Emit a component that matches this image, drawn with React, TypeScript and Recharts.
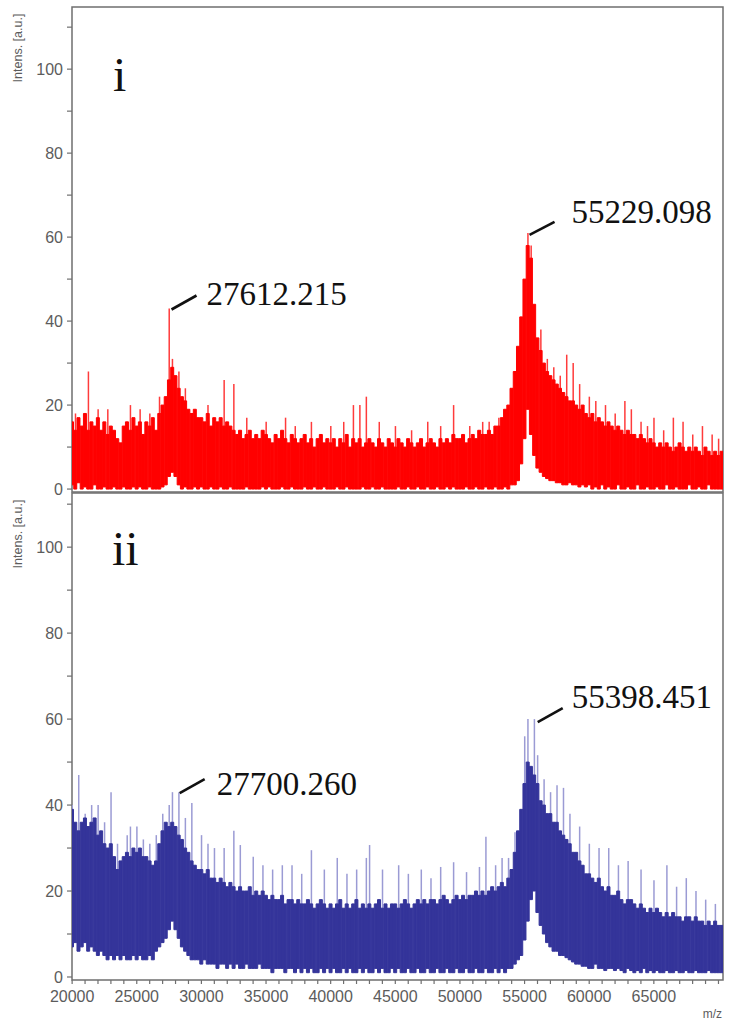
import React from 'react'
import { ComposedChart, Bar, XAxis, YAxis, ReferenceArea, ReferenceDot } from 'recharts'

// m/z bins: 20000, 20250, ... 70250 (one value per bin)
const MZ_START = 20000
const MZ_STEP = 250
const MZ_DOMAIN: [number, number] = [19990, 70350]
const X_LABELS = [20000, 25000, 30000, 35000, 40000, 45000, 50000, 55000, 60000, 65000]
const Y_TICKS = [0, 10, 20, 30, 40, 50, 60, 70, 80, 90, 100, 110]

// panel i (red) - upper / lower edge of the dense trace
const TOP_HI = [
  16, 14, 17, 15, 18, 14, 16, 15, 17, 14, 16, 13, 15, 14, 12, 11, 15, 16, 14, 17,
  15, 16, 13, 16, 15, 17, 14, 18, 20, 22, 26, 29, 27, 24, 22, 21, 19, 18, 19, 17,
  17, 16, 18, 15, 17, 16, 17, 15, 16, 15, 14, 13, 14, 12, 13, 14, 12, 13, 12, 14,
  13, 12, 11, 13, 12, 14, 12, 11, 13, 12, 11, 12, 13, 11, 12, 10, 12, 13, 11, 12,
  11, 12, 10, 12, 11, 13, 10, 12, 11, 12, 10, 11, 12, 11, 10, 12, 11, 10, 12, 11,
  10, 12, 11, 10, 12, 11, 10, 11, 12, 10, 11, 12, 11, 10, 12, 11, 12, 11, 13, 12,
  12, 13, 11, 12, 13, 12, 14, 13, 13, 14, 13, 15, 15, 17, 19, 20, 24, 28, 34, 41,
  50, 58, 55, 44, 36, 33, 30, 28, 27, 26, 25, 24, 23, 22, 21, 21, 20, 19, 20, 18,
  17, 18, 16, 17, 16, 15, 16, 15, 14, 15, 14, 13, 14, 13, 13, 12, 13, 12, 11, 12,
  11, 10, 11, 10, 11, 10, 9, 10, 11, 10, 9, 10, 9, 10, 9, 8, 10, 9, 8, 9,
  8, 9,
]
const TOP_LO = [
  1, 0, 1.5, 0, 0.5, 0, 0, 1, 0, 0, 0.5, 0, 0, 0.5, 0, 0, 0.5, 0, 0, 0.5,
  0, 0.5, 0, 0, 0.5, 0, 0, 0, 0.5, 1, 3, 4, 3, 1, 0, 0.5, 0, 0, 0.5, 0,
  0.5, 0, 0, 0.5, 0, 0, 0.5, 0, 0, 0.5, 0, 0, 0, 0, 0.5, 0, 0, 0, 0, 0.5,
  0, 0.5, 0, 0, 0, 0.5, 0, 0, 0.5, 0, 0, 0, 0.5, 0, 0, 0.5, 0, 0, 0.5, 0,
  0, 0, 0.5, 0, 0, 0.5, 0, 0, 0, 0, 0.5, 0, 0, 0.5, 0, 0, 0.5, 0, 0, 0,
  0, 0.5, 0, 0, 0.5, 0, 0, 0.5, 0, 0, 0.5, 0, 0, 0.5, 0, 0, 0.5, 0, 0.5, 0,
  0, 0, 0.5, 0, 0, 0.5, 0, 0, 0.5, 0, 0, 0.5, 0, 0, 0.5, 0, 1, 1, 2, 6,
  12, 19, 13, 8, 5, 4, 3, 2.5, 2, 2, 1.5, 1.5, 1, 1, 1.5, 1, 1, 0.5, 1, 0.5,
  1, 0, 0.5, 0, 1, 0, 0.5, 0, 0, 1, 0, 0, 0.5, 0, 0, 1, 0, 0, 0.5, 0,
  0, 0.5, 0, 0, 1, 0, 0, 0.5, 0, 0, 0, 1, 0, 0, 0.5, 0, 0, 1, 0, 0,
  0, 0,
]
// isolated tall lines above the trace [m/z, intensity]
const TOP_SPIKES: [number, number][] = [
  [20250, 18], [21250, 28], [22000, 19], [22750, 19], [24500, 20], [25250, 19], [26000, 18],
  [26750, 22], [27500, 43], [27750, 31], [28250, 28], [28750, 24], [30500, 20], [31750, 26],
  [32500, 25], [33500, 17], [35000, 16], [36500, 17], [37250, 15], [38500, 16], [40000, 15],
  [41000, 16], [41750, 20], [42250, 20], [42750, 22], [43750, 16], [45000, 15], [46250, 14],
  [47500, 16], [48500, 15], [49500, 20], [50750, 15], [51750, 16], [52250, 16], [53000, 17],
  [55250, 61], [55500, 58], [56250, 38], [56750, 31], [57250, 29], [57750, 27], [58250, 32],
  [58750, 30], [59250, 25], [60000, 22], [60500, 21], [61250, 20], [62000, 18], [62750, 21],
  [63250, 19], [64000, 16], [64500, 15], [65000, 17], [65750, 14], [66500, 17], [67250, 16],
  [68000, 13], [68750, 15], [69500, 13], [70000, 12],
]

// panel ii (blue)
const BOT_HI = [
  39, 36, 34, 36, 37, 35, 36, 37, 33, 34, 31, 30, 31, 28, 25, 27, 28, 29, 28, 30,
  29, 30, 28, 28, 27, 26, 27, 31, 34, 36, 35, 36, 35, 33, 32, 30, 29, 27, 26, 25,
  25, 24, 25, 23, 23, 22, 23, 22, 21, 22, 21, 20, 21, 20, 20, 21, 19, 20, 19, 20,
  19, 18, 19, 18, 18, 19, 17, 18, 18, 17, 18, 17, 17, 18, 17, 16, 17, 18, 17, 16,
  17, 16, 17, 18, 16, 17, 16, 17, 18, 16, 17, 16, 17, 16, 17, 18, 16, 17, 16, 17,
  17, 16, 17, 18, 17, 16, 17, 18, 17, 18, 17, 18, 18, 17, 18, 19, 18, 17, 18, 19,
  18, 19, 18, 19, 19, 20, 19, 20, 19, 20, 21, 20, 21, 22, 21, 23, 25, 29, 34, 39,
  45, 50, 49, 47, 45, 41, 40, 38, 38, 36, 36, 34, 33, 32, 31, 29, 29, 27, 26, 24,
  24, 23, 22, 23, 21, 20, 21, 19, 19, 20, 18, 17, 18, 18, 17, 16, 17, 16, 15, 16,
  15, 16, 15, 14, 15, 14, 15, 14, 14, 13, 14, 14, 13, 14, 13, 13, 12, 13, 12, 13,
  12, 12,
]
const BOT_LO = [
  7, 8, 6, 7, 8, 6, 7, 6, 5, 6, 5, 4, 5, 4, 5, 4, 5, 4, 4, 5,
  4, 5, 4, 4, 5, 4, 6, 7, 8, 9, 11, 13, 11, 9, 7, 6, 5, 4, 4, 4,
  3, 4, 3, 3, 3, 2, 3, 3, 2, 3, 2, 3, 2, 2, 3, 2, 2, 2, 3, 2,
  2, 2, 1, 2, 2, 2, 1, 2, 2, 1, 2, 1, 2, 1, 2, 1, 1, 2, 1, 2,
  1, 2, 1, 1, 2, 1, 2, 1, 1, 2, 1, 2, 1, 1, 2, 1, 2, 1, 1, 2,
  1, 2, 1, 1, 2, 1, 1, 2, 1, 1, 2, 1, 1, 2, 1, 1, 2, 1, 1, 2,
  1, 1, 2, 1, 1, 2, 1, 1, 2, 1, 1, 2, 1, 2, 1, 2, 2, 3, 4, 5,
  8.6, 13, 18, 20, 15, 12, 10, 8, 7, 6, 6, 5, 5, 4.5, 4, 3.5, 3, 3, 2.5, 2.5,
  2, 2, 3, 2, 2, 1.5, 2, 2, 1.5, 2, 1.5, 1, 2, 1.5, 1, 1.5, 1, 2, 1, 1.5,
  1, 1.5, 1, 1, 1.5, 1, 1, 1.5, 1, 1, 1.5, 1, 1, 1.5, 1, 1, 1, 1.5, 1, 1,
  1, 1,
]
const BOT_SPIKES: [number, number][] = [
  [20000, 40], [20500, 47], [21000, 38], [21500, 40], [22000, 40], [22500, 36], [23000, 43],
  [23500, 31], [24250, 33], [24500, 35], [25000, 35], [25500, 32], [26000, 31], [26500, 33],
  [27000, 38], [27500, 40], [27750, 43], [28250, 43], [28750, 37], [29250, 40.5], [30000, 33],
  [30500, 31], [31000, 30], [31750, 30], [32500, 34], [33000, 30.7], [34000, 28], [34750, 26],
  [35500, 25], [36250, 26], [37000, 26], [37750, 24], [38500, 29.5], [39500, 25], [40500, 27.7],
  [41250, 24], [42000, 25], [42750, 27.7], [43000, 30.7], [44000, 25], [45250, 26], [46000, 24],
  [47000, 25], [47750, 23], [48500, 25.6], [49500, 26.7], [50500, 24.4], [51500, 25.6],
  [52000, 32.6], [52750, 26], [53250, 27.7], [53750, 27.7], [54250, 33.7], [55000, 56],
  [55250, 60], [55750, 60], [56000, 51.6], [56500, 46], [57000, 43], [57500, 44.6], [58000, 44],
  [58500, 38], [59250, 35], [60000, 31], [60750, 30], [61500, 30], [62250, 26], [63000, 27],
  [64000, 25], [65000, 22.5], [66000, 26], [66750, 21], [67500, 23], [68250, 20], [69000, 18],
  [69750, 17],
]

const TOP_PEAKS = [
  { mz: 27612.215, intensity: 43, label: '27612.215' },
  { mz: 55229.098, intensity: 61, label: '55229.098' },
]
const BOT_PEAKS = [
  { mz: 27700.26, intensity: 42.8, label: '27700.260' },
  { mz: 55398.451, intensity: 60, label: '55398.451' },
]
// leader line start/end and label anchor, px from the peak apex
const TOP_CALLOUTS = [
  { l1: [1, 1], l2: [26, -13], t: [36, -3] },
  { l1: [2, 2], l2: [27, -11], t: [44, -10] },
]
const BOT_CALLOUTS = [
  { l1: [8, 0], l2: [33, -14], t: [45, 2] },
  { l1: [8, 3], l2: [33, -11], t: [42, -11] },
]

const AXIS_GRAY = '#6f6f6f'
const TEXT_GRAY = '#5c5c5c'
const SANS = '"Liberation Sans", Arial, sans-serif'
const SERIF = '"Liberation Serif", "Times New Roman", serif'

function buildRows(hi: number[], lo: number[], spikes: [number, number][]) {
  const spikeMap = new Map(spikes)
  return hi.map((h, i) => {
    const x = MZ_START + i * MZ_STEP
    return { x, core: [lo[i], h], spike: spikeMap.has(x) ? [lo[i], spikeMap.get(x)] : null }
  })
}

const topRows = buildRows(TOP_HI, TOP_LO, TOP_SPIKES)
const botRows = buildRows(BOT_HI, BOT_LO, BOT_SPIKES)

const xTicks = Array.from({ length: 51 }, (_, i) => 20000 + i * 1000)

function YTick(props: any) {
  const { x, y, payload } = props
  const major = payload.value % 20 === 0
  return (
    <g>
      <line x1={x - 5} x2={x} y1={y} y2={y} stroke={AXIS_GRAY} strokeWidth={1.2} />
      {major && (
        <text x={x - 9} y={y} dy="0.36em" textAnchor="end" fontSize={16} fontFamily={SANS} fill={TEXT_GRAY}>
          {payload.value}
        </text>
      )}
    </g>
  )
}

function XTick(props: any) {
  const { x, y, payload } = props
  const showLabel = X_LABELS.includes(payload.value)
  return (
    <g>
      <line x1={x} x2={x} y1={y} y2={y + 4} stroke={AXIS_GRAY} strokeWidth={1.2} />
      {showLabel && (
        <text x={x} y={y + 22} textAnchor="middle" fontSize={16} fontFamily={SANS} fill={TEXT_GRAY}>
          {payload.value}
        </text>
      )}
    </g>
  )
}

function yTitle({ viewBox }: any) {
  const cx = viewBox.x + 22
  const cy = viewBox.y + 41
  return (
    <text x={cx} y={cy} transform={`rotate(-90 ${cx} ${cy})`} textAnchor="middle" fontSize={12.5} fontFamily={SANS} fill={TEXT_GRAY}>
      Intens. [a.u.]
    </text>
  )
}

function xTitle({ viewBox }: any) {
  return (
    <text x={viewBox.x + viewBox.width - 1} y={viewBox.y + 38} textAnchor="end" fontSize={12} fontFamily={SANS} fill={TEXT_GRAY}>
      m/z
    </text>
  )
}

function callout(label: string, c: any) {
  return (props: any) => {
    const { cx, cy } = props
    return (
      <g>
        <line x1={cx + c.l1[0]} y1={cy + c.l1[1]} x2={cx + c.l2[0]} y2={cy + c.l2[1]} stroke="#111" strokeWidth={2.6} />
        <text x={cx + c.t[0]} y={cy + c.t[1]} fontSize={33} fontFamily={SERIF} fill="#111">
          {label}
        </text>
      </g>
    )
  }
}

interface PanelProps {
  rows: any[]
  yDomain: [number, number]
  color: string
  spikeColor: string
  peaks: { mz: number; intensity: number; label: string }[]
  callouts: any[]
  height: number
  margin: any
  showX: boolean
}

function Spectrum({ rows, yDomain, color, spikeColor, peaks, callouts, height, margin, showX }: PanelProps) {
  return (
    <ComposedChart width={729} height={height} data={rows} margin={margin} barCategoryGap={0} barGap={0}>
      <XAxis
        xAxisId="core"
        type="number"
        dataKey="x"
        domain={MZ_DOMAIN}
        allowDataOverflow
        hide={!showX}
        ticks={xTicks}
        interval={0}
        tick={<XTick />}
        tickSize={0}
        tickMargin={0}
        tickLine={false}
        axisLine={false}
        height={42}
        label={{ content: xTitle }}
      />
      <XAxis xAxisId="spike" type="number" dataKey="x" domain={MZ_DOMAIN} allowDataOverflow hide />
      <YAxis
        type="number"
        domain={yDomain}
        allowDataOverflow
        ticks={Y_TICKS}
        interval={0}
        tick={<YTick />}
        tickSize={0}
        tickMargin={0}
        tickLine={false}
        axisLine={false}
        width={72}
        label={{ content: yTitle }}
      />
      <Bar xAxisId="spike" dataKey="spike" fill={spikeColor} barSize={1.5} isAnimationActive={false} />
      <Bar xAxisId="core" dataKey="core" fill={color} stroke={color} strokeWidth={1} isAnimationActive={false} />
      <ReferenceArea
        xAxisId="core"
        x1={MZ_DOMAIN[0]}
        x2={MZ_DOMAIN[1]}
        y1={yDomain[0]}
        y2={yDomain[1]}
        fill="none"
        fillOpacity={0}
        stroke={AXIS_GRAY}
        strokeWidth={1.5}
        ifOverflow="visible"
      />
      {peaks.map((p, i) => (
        <ReferenceDot
          key={p.label}
          xAxisId="core"
          x={p.mz}
          y={p.intensity}
          r={0}
          ifOverflow="visible"
          shape={callout(p.label, callouts[i])}
        />
      ))}
    </ComposedChart>
  )
}

const panelLabel: React.CSSProperties = {
  position: 'absolute',
  fontFamily: SERIF,
  fontSize: 48,
  lineHeight: 1,
  color: '#111',
}

export default function App() {
  return (
    <div style={{ position: 'absolute', left: 0, top: 0, width: 729, height: 1022, background: '#fff' }}>
      <div style={{ position: 'absolute', left: 0, top: 490 }}>
        <Spectrum
          rows={botRows}
          yDomain={[-0.7, 112.6]}
          color="#34349a"
          spikeColor="#9b9bd4"
          peaks={BOT_PEAKS}
          callouts={BOT_CALLOUTS}
          height={532}
          margin={{ top: 3, right: 6, bottom: 0, left: 0 }}
          showX
        />
      </div>
      <div style={{ position: 'absolute', left: 0, top: 0 }}>
        <Spectrum
          rows={topRows}
          yDomain={[-0.7, 114.8]}
          color="#ff0000"
          spikeColor="#ff3b3b"
          peaks={TOP_PEAKS}
          callouts={TOP_CALLOUTS}
          height={506}
          margin={{ top: 7, right: 6, bottom: 14, left: 0 }}
          showX={false}
        />
      </div>
      <div style={{ ...panelLabel, left: 113, top: 51 }}>i</div>
      <div style={{ ...panelLabel, left: 112, top: 525 }}>ii</div>
    </div>
  )
}
